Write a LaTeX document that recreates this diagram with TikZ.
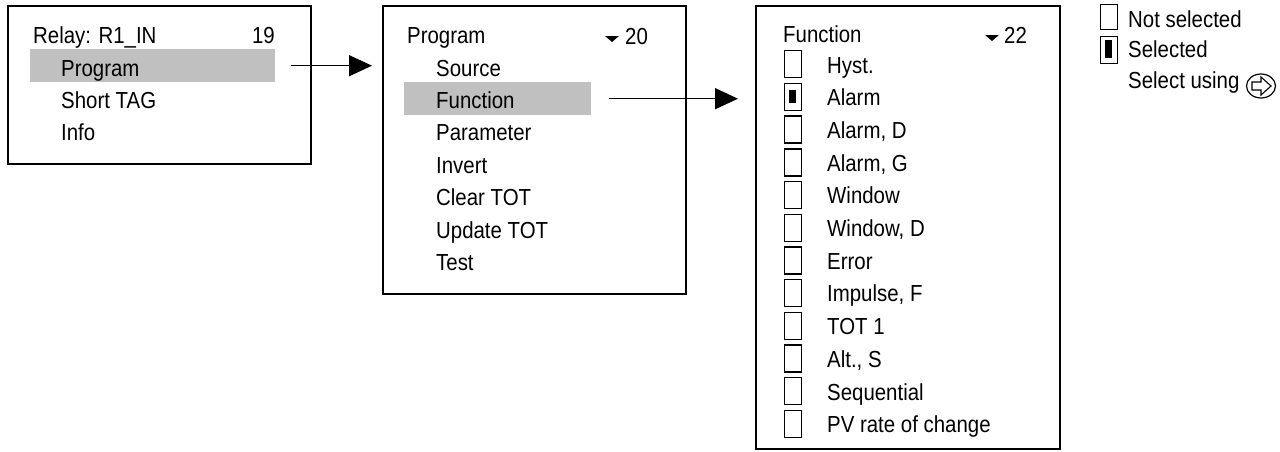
\documentclass[tikz,border=0pt]{standalone}
\usepackage{fontspec}
\setmainfont{Liberation Sans}[FakeStretch=0.88]
\usetikzlibrary{arrows.meta,shapes.geometric}
\definecolor{hl}{RGB}{192,192,192}
\tikzset{
  txt/.style={inner sep=0pt, anchor=base west, font=\fontsize{23.2}{26}\selectfont},
  frame/.style={draw, line width=2pt, anchor=north west, inner sep=0pt},
  hlbar/.style={fill=hl, anchor=north west, inner sep=0pt},
  chk/.style={draw, line width=1.4pt, anchor=north west, inner sep=0pt, minimum width=17pt, minimum height=27pt},
  arr/.style={line width=1.5pt, -{Triangle[length=23pt, width=21pt]}},
  tri/.style={fill=black}
}
\begin{document}
\begin{tikzpicture}[x=1pt,y=-1pt]
\useasboundingbox (0,0) rectangle (1280,451);
% ---- Box 1
\node[frame, minimum width=303pt, minimum height=158pt] (box1) at (7,5) {};
\node[hlbar, minimum width=245pt, minimum height=33pt] (hl1) at (30,49) {};
\node[txt] (t1a) at (33,43) {Relay: R1\_IN};
\node[txt, anchor=base east] (t1b) at (275,43) {19};
\node[txt] (t1c) at (61,76) {Program};
\node[txt] (t1d) at (61,108) {Short TAG};
\node[txt] (t1e) at (61,140) {Info};
% ---- Box 2
\node[frame, minimum width=303pt, minimum height=288pt] (box2) at (382,5) {};
\node[hlbar, minimum width=187pt, minimum height=33pt] (hl2) at (404,82) {};
\node[txt] (t2a) at (407,43) {Program};
\fill[tri] (605,36) -- (619,36) -- (612,42) -- cycle;
\node[txt] (t2b) at (625,44) {20};
\node[txt] (t2c) at (436,76) {Source};
\node[txt] (t2d) at (436,108) {Function};
\node[txt] (t2e) at (436,140) {Parameter};
\node[txt] (t2f) at (436,173) {Invert};
\node[txt] (t2g) at (436,205) {Clear TOT};
\node[txt] (t2h) at (436,238) {Update TOT};
\node[txt] (t2i) at (436,270) {Test};
% ---- Box 3
\node[frame, minimum width=304pt, minimum height=443pt] (box3) at (755,5) {};
\node[txt] (t3a) at (783,42) {Function};
\fill[tri] (985,35) -- (999,35) -- (992,41) -- cycle;
\node[txt] (t3b) at (1004,43) {22};
\foreach \i/\lab in {0/{Hyst.},1/{Alarm},2/{Alarm, D},3/{Alarm, G},4/{Window},5/{Window, D},6/{Error},7/{Impulse, F},8/{TOT 1},9/{Alt., S},10/{Sequential},11/{PV rate of change}}{
  \node[chk] (cb\i) at (784,{50+32.7*\i}) {};
  \node[txt] (it\i) at (827,{73+32.7*\i}) {\lab};
}
\fill (789,90) rectangle (796,103);
% ---- Legend
\node[chk, minimum height=25pt] (lg1) at (1100,4) {};
\node[txt] (lt1) at (1128,27) {Not selected};
\node[chk] (lg2) at (1100,36) {};
\fill (1105,40) rectangle (1112,58);
\node[txt] (lt2) at (1128,57) {Selected};
\node[txt] (lt3) at (1128,88) {Select using};
\node[draw, ellipse, line width=1.2pt, minimum width=29pt, minimum height=24pt, inner sep=0pt] (sel) at (1261,86) {};
\draw[line width=1.1pt, line join=miter] (1252,82) -- (1261,82) -- (1261,77) -- (1271,86) -- (1261,95) -- (1261,90) -- (1252,90) -- cycle;
% ---- Arrows
\draw[arr] ([xshift=16pt]hl1.east) -- ([xshift=-10pt]box2.west |- hl1.east);
\draw[arr] ([xshift=18pt]hl2.east) -- ([xshift=-17pt]box3.west |- hl2.east);
\end{tikzpicture}
\end{document}
